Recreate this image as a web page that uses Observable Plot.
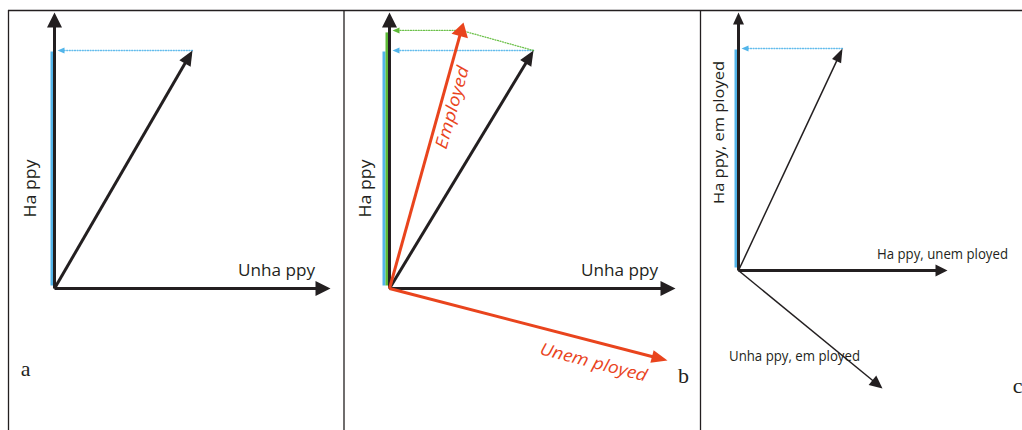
<!DOCTYPE html>
<html><head><meta charset="utf-8">
<script src="https://cdn.jsdelivr.net/npm/d3@7"></script>
<script src="https://cdn.jsdelivr.net/npm/@observablehq/plot@0.6"></script>
<style>body{margin:0;background:#fff}svg{display:block}</style>
</head><body><div id="chart"></div>
<script>
// ---------- data ----------
const panels = ["a", "b", "c"];
// vectors (components in drawing units, y up, relative to the panel origin)
const vecPanel = ["a", "a", "a", "b", "b", "b", "b", "b", "c", "c", "c", "c"];
const vecName  = ["happy", "unhappy", "state", "happy", "unhappy", "state", "employed", "unemployed", "happyEmployed", "happyUnemployed", "unhappyEmployed", "state"];
const vecDx    = [0, 276, 138, 0, 286, 144, 74, 278, 0, 209, 144, 104];
const vecDy    = [276, 0, 238, 276, 0, 238, 266, -72, 258, 0, -118, 222];
// labels
const labelPanel = ["a", "a", "a", "b", "b", "b", "b", "b", "c", "c", "c", "c"];
const labelText  = ["Ha ppy", "Unha ppy", "a", "Ha ppy", "Unha ppy", "Employed", "Unem ployed", "b", "Ha ppy, em ployed", "Ha ppy, unem ployed", "Unha ppy, em ployed", "c"];

// ---------- layout & styles ----------
const origin = {a: [54, 0], b: [389, 0], c: [738, 18]};
const labelPos = [[-24, 100], [222, 18], [-29, -80], [-24, 100], [230, 18], [63, 181], [204, -74], [294, -87], [-19, 138], [204, 16], [56, -86], [279, -115]];
const BLACK = "#231f20", RED = "#e9441d", BLUE = "#52b5ea", GREEN = "#5dba37";
const style = {
  a: {happy: [BLACK, 3, 15, 15], unhappy: [BLACK, 3, 15, 15], state: [BLACK, 3, 15, 13]},
  b: {happy: [BLACK, 3, 15, 15], unhappy: [BLACK, 3, 15, 15], state: [BLACK, 3, 15, 13], employed: [RED, 3, 14, 17], unemployed: [RED, 3, 16, 13]},
  c: {happyEmployed: [BLACK, 3, 12, 11], happyUnemployed: [BLACK, 3, 12, 12], unhappyEmployed: [BLACK, 1.5, 13, 12], state: [BLACK, 1.5, 14, 10]}
};

const vectors = vecName.map((name, i) => {
  const p = vecPanel[i], [ox, oy] = origin[p];
  const [color, width, L, Wd] = style[p][name];
  return {id: "v" + i, panel: p, name, x1: ox, y1: oy, x2: ox + vecDx[i], y2: oy + vecDy[i], dx: vecDx[i], dy: vecDy[i], color, width, L, Wd};
});

function head(id, tx, ty, ux, uy, L, W, color) {
  const bx = tx - ux * L, by = ty - uy * L, px = -uy, py = ux;
  return [
    {id, color, x: tx, y: ty},
    {id, color, x: bx + px * W / 2, y: by + py * W / 2},
    {id, color, x: bx - px * W / 2, y: by - py * W / 2}
  ];
}

const shafts = [], heads = [];
for (const v of vectors) {
  const len = Math.hypot(v.dx, v.dy), ux = v.dx / len, uy = v.dy / len;
  shafts.push({...v, x2: v.x2 - ux * v.L * 0.7, y2: v.y2 - uy * v.L * 0.7});
  heads.push(...head(v.id, v.x2, v.y2, ux, uy, v.L, v.Wd, v.color));
}

// projections
const bars = [], dotted = [];
for (const p of panels) {
  const [ox, oy] = origin[p];
  const st = vectors.find(v => v.panel === p && v.name === "state");
  const off = p === "b" ? -5.5 : -2.5;
  bars.push({x: ox + off, y1: oy + 3, y2: st.y2 - 1, color: BLUE, w: 3});
  dotted.push({id: p + "blue", color: BLUE, x: st.x2, y: st.y2}, {id: p + "blue", color: BLUE, x: ox + 8, y: st.y2});
  heads.push(...head(p + "bh", ox + 3, st.y2, -1, 0, 7, 6, BLUE));
  if (p === "b") {
    const e = vectors.find(v => v.panel === p && v.name === "employed");
    const el = Math.hypot(e.dx, e.dy);
    const dot = (st.dx * e.dx + st.dy * e.dy) / el;
    const qx = ox + dot * e.dx / el, qy = oy + dot * e.dy / el;
    bars.push({x: ox - 2.5, y1: oy + 3, y2: qy - 2, color: GREEN, w: 3});
    dotted.push({id: "bg", color: GREEN, x: st.x2, y: st.y2}, {id: "bg", color: GREEN, x: qx, y: qy}, {id: "bg", color: GREEN, x: ox + 8, y: qy});
    heads.push(...head("bgh", ox + 3, qy, -1, 0, 7, 6, GREEN));
  }
}

// labels
const angleOf = name => {
  const v = vectors.find(d => d.name === name);
  return Math.atan2(-v.dy, v.dx) * 180 / Math.PI;
};
const labels = labelText.map((t, i) => {
  const p = labelPanel[i], [ox, oy] = origin[p];
  let rotate = 0, fill = BLACK, size = 16, font = "Open Sans", italic = "normal";
  if (t.startsWith("Ha ppy") && (p !== "c" || t.includes("em ployed") && !t.includes("unem"))) rotate = -90;
  if (t === "Employed") { rotate = angleOf("employed"); fill = RED; size = 17; italic = "italic"; }
  if (t === "Unem ployed") { rotate = angleOf("unemployed"); fill = RED; size = 17; italic = "italic"; }
  if (p === "c" && t.length > 1) size = 14;
  if (t.length === 1) { font = "Liberation Serif"; size = 22; }
  return {text: t, x: ox + labelPos[i][0], y: oy + labelPos[i][1], rotate, fill, size, font, italic};
});

// panel borders (table rules)
const borderX = [8, 343.5, 700];

const chart = Plot.plot({
  width: 1022, height: 430,
  margin: 0,
  x: {domain: [0, 1022], range: [0, 1022], axis: null},
  y: {domain: [-142, 288], range: [430, 0], axis: null},
  marks: [
    Plot.ruleY([278], {x1: 8, x2: 1022, stroke: BLACK, strokeWidth: 1.3}),
    Plot.ruleX(borderX, {y1: -142, y2: 278, stroke: BLACK, strokeWidth: 1.3}),
    Plot.link(bars, {x1: "x", x2: "x", y1: "y1", y2: "y2", stroke: "color", strokeWidth: "w"}),
    Plot.line(dotted, {x: "x", y: "y", z: "id", stroke: "color", strokeWidth: 1.3, strokeDasharray: "1,1.6", strokeOpacity: 0.9}),
    Plot.link(shafts, {x1: "x1", y1: "y1", x2: "x2", y2: "y2", stroke: "color", strokeWidth: "width", strokeLinecap: "butt"}),
    Plot.line(heads, {x: "x", y: "y", z: "id", fill: "color", stroke: "none", curve: "linear-closed"}),
    ...labels.map(l => Plot.text([l], {x: "x", y: "y", text: "text", rotate: l.rotate, fill: l.fill, fontSize: l.size, fontFamily: l.font, fontStyle: l.italic}))
  ]
});
const lengths = {"Ha ppy, em ployed": 143, "Ha ppy, unem ployed": 131, "Unha ppy, em ployed": 131, "Employed": 85, "Unem ployed": 110, "Unha ppy": 77, "Ha ppy": 58};
d3.select(chart).selectAll("text").each(function() {
  const t = this.textContent;
  if (lengths[t]) { this.setAttribute("textLength", lengths[t]); this.setAttribute("lengthAdjust", "spacingAndGlyphs"); }
});
document.getElementById("chart").append(chart);
</script>
</body></html>
